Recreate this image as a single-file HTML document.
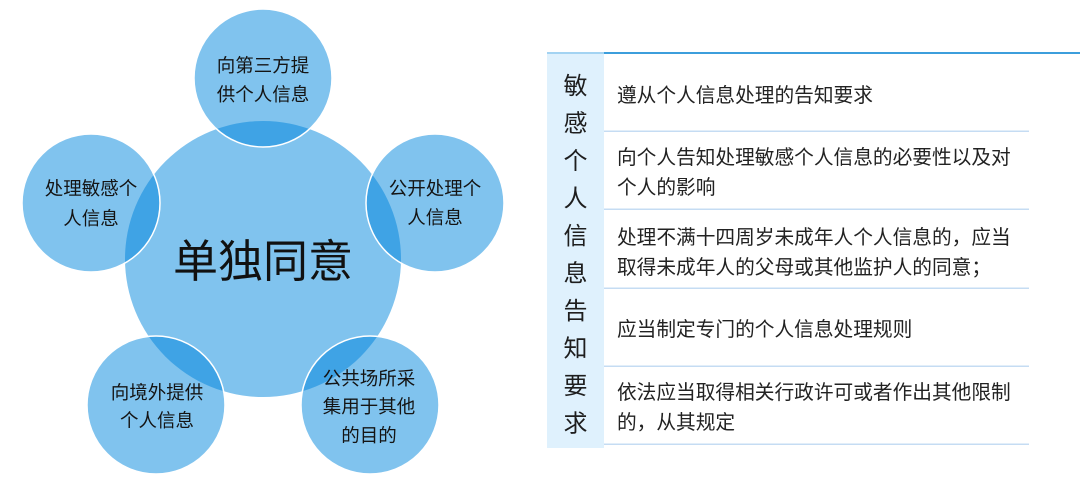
<!DOCTYPE html>
<html><head><meta charset="utf-8"><style>
html,body{margin:0;padding:0;background:#fff;}
body{width:1080px;height:484px;overflow:hidden;}
svg{display:block;font-family:"Liberation Sans","Noto Sans CJK SC",sans-serif;}
</style></head><body>
<svg width="1080" height="484" viewBox="0 0 1080 484" xmlns="http://www.w3.org/2000/svg">
<defs>
<clipPath id="c1"><circle cx="263" cy="78" r="69"/></clipPath>
<clipPath id="c2"><circle cx="91" cy="203" r="69"/></clipPath>
<clipPath id="c3"><circle cx="435" cy="203" r="69"/></clipPath>
<clipPath id="c4"><circle cx="156" cy="405" r="69"/></clipPath>
<clipPath id="c5"><circle cx="370" cy="405" r="69"/></clipPath>
</defs>
<!-- central -->
<circle cx="263" cy="259" r="138" fill="#80C3EE"/>
<!-- satellites -->
<g fill="#80C3EE">
<circle cx="263" cy="78" r="69"/>
<circle cx="91" cy="203" r="69"/>
<circle cx="435" cy="203" r="69"/>
<circle cx="156" cy="405" r="69"/>
<circle cx="370" cy="405" r="69"/>
</g>
<!-- lenses -->
<g fill="#3FA3E5">
<circle cx="263" cy="259" r="138" clip-path="url(#c1)"/>
<circle cx="263" cy="259" r="138" clip-path="url(#c2)"/>
<circle cx="263" cy="259" r="138" clip-path="url(#c3)"/>
<circle cx="263" cy="259" r="138" clip-path="url(#c4)"/>
<circle cx="263" cy="259" r="138" clip-path="url(#c5)"/>
</g>
<g fill="none" stroke="#fff" stroke-width="1.5">
<circle cx="263" cy="78" r="69"/>
<circle cx="91" cy="203" r="69"/>
<circle cx="435" cy="203" r="69"/>
<circle cx="156" cy="405" r="69"/>
<circle cx="370" cy="405" r="69"/>
</g>
<!-- texts -->
<g fill="#141414" font-size="18.5" text-anchor="middle">
<text x="263" y="72">向第三方提</text>
<text x="263" y="101">供个人信息</text>
<text x="91" y="195">处理敏感个</text>
<text x="91" y="225">人信息</text>
<text x="435" y="195">公开处理个</text>
<text x="435" y="224">人信息</text>
<text x="157" y="399">向境外提供</text>
<text x="157" y="427">个人信息</text>
<text x="369" y="385">公共场所采</text>
<text x="369" y="413">集用于其他</text>
<text x="369" y="442">的目的</text>
</g>
<text x="263" y="277" font-size="45" text-anchor="middle" fill="#111">单独同意</text>

<!-- table -->
<rect x="547" y="53" width="57" height="395" fill="#DFF1FD"/>
<rect x="547" y="52" width="57" height="2" fill="#A3D3F2"/>
<rect x="604" y="52" width="476" height="2" fill="#3C9EDC"/>
<g fill="#C5DCF3">
<rect x="604" y="130.5" width="425" height="1.5"/>
<rect x="604" y="208.5" width="425" height="1.5"/>
<rect x="604" y="287.5" width="425" height="1.5"/>
<rect x="604" y="365.5" width="425" height="1.5"/>
<rect x="604" y="443.5" width="425" height="1.5"/>
</g>
<g fill="#1e1e1e" font-size="24" text-anchor="middle">
<text x="575.5" y="94">敏</text>
<text x="575.5" y="131.5">感</text>
<text x="575.5" y="169">个</text>
<text x="575.5" y="206.5">人</text>
<text x="575.5" y="244">信</text>
<text x="575.5" y="281.5">息</text>
<text x="575.5" y="319">告</text>
<text x="575.5" y="356.5">知</text>
<text x="575.5" y="394">要</text>
<text x="575.5" y="431.5">求</text>
</g>
<g fill="#222" font-size="19.7">
<text x="617" y="102">遵从个人信息处理的告知要求</text>
<text x="617" y="164">向个人告知处理敏感个人信息的必要性以及对</text>
<text x="617" y="194">个人的影响</text>
<text x="617" y="244">处理不满十四周岁未成年人个人信息的，应当</text>
<text x="617" y="274">取得未成年人的父母或其他监护人的同意；</text>
<text x="617" y="336">应当制定专门的个人信息处理规则</text>
<text x="617" y="399">依法应当取得相关行政许可或者作出其他限制</text>
<text x="617" y="429">的，从其规定</text>
</g>
</svg>
</body></html>
